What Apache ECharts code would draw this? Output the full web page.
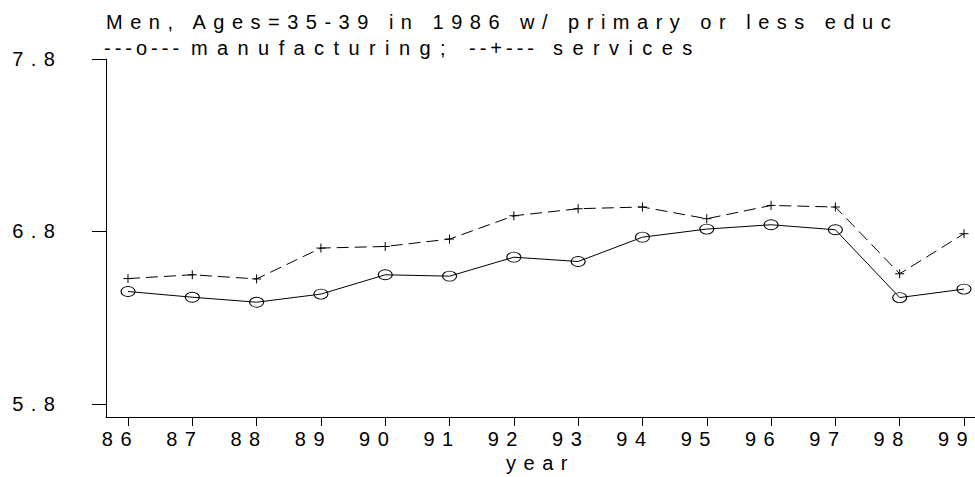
<!DOCTYPE html>
<html>
<head>
<meta charset="utf-8">
<script src="https://cdn.jsdelivr.net/npm/echarts@6/dist/echarts.min.js"></script>
<style>
  html, body { margin: 0; padding: 0; background: #fff; }
  #chart { width: 975px; height: 477px; }
  /* wide, typewriter-like tracking used throughout the graph text */
  #chart text { letter-spacing: 7.5px; }
</style>
</head>
<body>
<div id="chart"></div>
<script>
// Log wages by year, two sectors
const years = [86, 87, 88, 89, 90, 91, 92, 93, 94, 95, 96, 97, 98, 99];
const manufacturing = [6.452, 6.419, 6.390, 6.437, 6.549, 6.541, 6.651, 6.626, 6.767, 6.814, 6.839, 6.810, 6.417, 6.466];
const services = [6.527, 6.549, 6.525, 6.704, 6.713, 6.756, 6.891, 6.932, 6.942, 6.874, 6.951, 6.942, 6.555, 6.787];
const yTicks = [5.8, 6.8, 7.8];

const titleText = 'Men, Ages=35-39 in 1986 w/ primary or less educ';
const keyManu = '---o---';
const nameManu = 'manufacturing;';
const keyServ = '--+---';
const nameServ = 'services';
const xName = 'year';

const FONT = '"Liberation Sans", Arial, sans-serif';
const INK = '#000';

// legend-line pieces use their own tracking
const tracking = {
  [keyManu]: '4px',
  [keyServ]: '4px',
  [nameManu]: '9.4px',
  [nameServ]: '9.4px'
};

const chart = echarts.init(document.getElementById('chart'), null, { renderer: 'svg' });

const pairs = (vals) => years.map((y, i) => [y, vals[i]]);
const textStyle = { fontFamily: FONT, fontSize: 20, color: INK };
const gText = (text, left, top) => ({
  type: 'text', left, top, silent: true,
  style: { text, font: '20px ' + FONT, fill: INK }
});

chart.on('finished', () => {
  document.querySelectorAll('#chart text').forEach(t => {
    const s = tracking[t.textContent.trim()];
    if (s) t.style.letterSpacing = s;
  });
});

chart.setOption({
  animation: false,
  backgroundColor: '#fff',
  grid: { left: 106, right: 0, top: 59, bottom: 60, containLabel: false, outerBoundsMode: 'none' },
  graphic: [
    gText(titleText, 106, 12),
    gText(keyManu, 104, 38),
    gText(nameManu, 191, 38),
    gText(keyServ, 469, 38),
    gText(nameServ, 553, 38)
  ],
  xAxis: {
    type: 'value',
    min: 85.658, max: 99.171,
    name: xName, nameLocation: 'middle', nameGap: 36,
    nameTextStyle: textStyle,
    axisLine: { show: true, lineStyle: { color: INK, width: 1 } },
    axisTick: { show: true, length: 9, customValues: years, lineStyle: { color: INK } },
    axisLabel: {
      customValues: years, margin: 11.5, padding: [0, 15, 0, 0],
      formatter: v => String(Math.round(v)), ...textStyle
    },
    splitLine: { show: false }
  },
  yAxis: {
    type: 'value',
    min: 5.7245, max: 7.8,
    axisLine: { show: true, lineStyle: { color: INK, width: 1 } },
    axisTick: { show: true, length: 14, customValues: yTicks, lineStyle: { color: INK } },
    axisLabel: {
      customValues: yTicks, margin: 43.5, padding: [7, 0, 0, 0],
      formatter: v => v.toFixed(1), ...textStyle
    },
    splitLine: { show: false }
  },
  series: [
    {
      name: 'manufacturing', type: 'line', data: pairs(manufacturing), silent: true,
      symbol: 'path://M0,5A7,5 0 1,0 14,5A7,5 0 1,0 0,5Z',
      symbolSize: [14, 10],
      itemStyle: { color: 'none', borderColor: INK, borderWidth: 1 },
      lineStyle: { color: INK, width: 1, type: 'solid' }
    },
    {
      name: 'services', type: 'line', data: pairs(services), silent: true,
      symbol: 'path://M0,4.5H9M4.5,0V9',
      symbolSize: 9,
      itemStyle: { color: 'none', borderColor: INK, borderWidth: 1 },
      lineStyle: { color: INK, width: 1, type: [12, 6] }
    }
  ]
});
</script>
</body>
</html>
